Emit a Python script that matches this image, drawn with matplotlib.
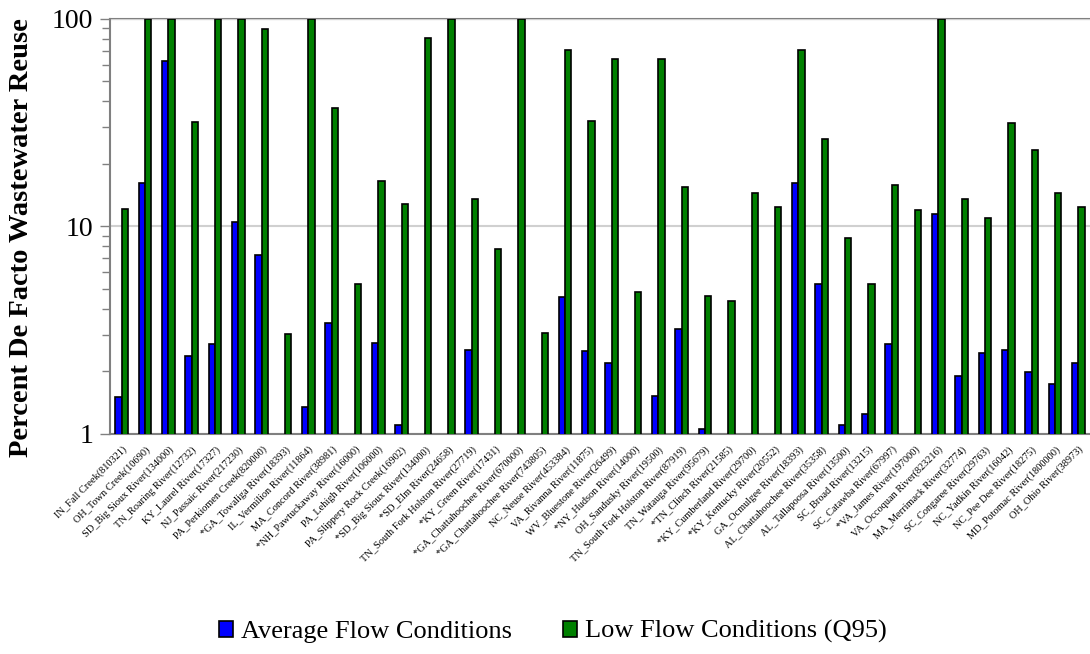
import numpy as np
import matplotlib.pyplot as plt
from matplotlib.ticker import LogLocator, NullFormatter, FixedFormatter, FixedLocator

# River sites (state_river(design flow))
sites = [
    "IN_Fall Creek(810321)", "OH_Town Creek(10690)", "SD_Big Sioux River(134000)",
    "TN_Roaring River(12732)", "KY_Laurel River(17327)", "NJ_Passaic River(217230)",
    "PA_Perkiomen Creek(820000)", "*GA_Towaliga River(18393)", "IL_Vermilion River(11864)",
    "MA_Concord River(38981)", "*NH_Pawtuckaway River(16000)", "PA_Lehigh River(106000)",
    "PA_Slippery Rock Creek(16902)", "*SD_Big Sioux River(134000)", "*SD_Elm River(24658)",
    "TN_South Fork Holston River(27719)", "*KY_Green River(17431)",
    "*GA_Chattahoochee River(670000)", "*GA_Chattahoochee River(743805)",
    "NC_Neuse River(453384)", "VA_Rivanna River(11875)", "WV_Bluestone River(26499)",
    "*NY_Hudson River(14000)", "OH_Sandusky River(19500)",
    "TN_South Fork Holston River(87919)", "TN_Watauga River(95679)",
    "*TN_Clinch River(21585)", "*KY_Cumberland River(29700)", "*KY_Kentucky River(20552)",
    "GA_Ocmulgee River(18393)", "AL_Chattahoochee River(35358)",
    "AL_Tallapoosa River(13500)", "SC_Broad River(13215)", "SC_Catawba River(67997)",
    "*VA_James River(197000)", "VA_Occoquan River(823216)", "MA_Merrimack River(32774)",
    "SC_Congaree River(29763)", "NC_Yadkin River(16042)", "NC_Pee Dee River(18275)",
    "MD_Potomac River(1800000)", "OH_Ohio River(38973)",
]

# percent de facto reuse, nan = no value
avg_flow = [
    1.50, 16.1, 62.5, 2.38, 2.71, 10.5, 7.25, np.nan, 1.35, 3.43,
    np.nan, 2.74, 1.10, np.nan, np.nan, 2.53, np.nan, np.nan, np.nan, 4.56,
    2.50, 2.18, np.nan, 1.51, 3.18, 1.05, np.nan, np.nan, np.nan, 16.1,
    5.25, 1.10, 1.24, 2.70, np.nan, 11.5, 1.90, 2.45, 2.52, 1.99,
    1.73, 2.19,
]
low_flow = [
    12.1, 100, 100, 31.9, 100, 100, 89.2, 3.01, 100, 37.2,
    5.29, 16.6, 12.8, 80.7, 100, 13.5, 7.75, 100, 3.07, 70.9,
    32.2, 63.9, 4.80, 64.1, 15.5, 4.63, 4.35, 14.4, 12.4, 71.1,
    26.4, 8.81, 5.29, 15.8, 12.0, 100, 13.5, 11.0, 31.6, 23.3,
    14.4, 12.4,
]

plt.rcParams['font.family'] = ['Liberation Serif', 'DejaVu Serif']

fig = plt.figure(figsize=(10.9, 6.54), dpi=100)
ax = fig.add_axes([0.101, 0.337, 0.899, 0.634])

x = np.arange(len(sites))
w = 0.27
ax.bar(x, avg_flow, width=-w, align='edge', color='#0000ff', edgecolor='black',
       linewidth=1.2, label='Average Flow Conditions', zorder=3)
ax.bar(x, low_flow, width=w, align='edge', color='#008000', edgecolor='black',
       linewidth=1.2, label='Low Flow Conditions (Q95)', zorder=3)

ax.set_yscale('log')
ax.set_ylim(1, 100)
ax.set_xlim(-0.5, len(sites) - 0.5)

ax.yaxis.set_major_locator(FixedLocator([1, 10, 100]))
ax.yaxis.set_major_formatter(FixedFormatter(['1', '10', '100']))
ax.yaxis.set_minor_locator(LogLocator(base=10, subs=np.arange(2, 10)))
ax.yaxis.set_minor_formatter(NullFormatter())
ax.tick_params(axis='y', which='major', labelsize=20, length=7, width=1,
               color='#808080', direction='out', pad=5)
ax.tick_params(axis='y', which='minor', length=6, width=1, color='#808080',
               direction='out')

ax.set_xticks(x)
ax.set_xticklabels(sites, rotation=45, ha='right', va='top',
                   rotation_mode='anchor', fontsize=7.5)
ax.tick_params(axis='x', length=0, pad=8)

ax.grid(axis='y', which='major', color='#d0d0d0', linewidth=1.5, zorder=0)
for side in ['top', 'right']:
    ax.spines[side].set_visible(False)
for side in ['left', 'bottom']:
    ax.spines[side].set_color('#808080')
    ax.spines[side].set_linewidth(1.5)
ax.axhline(100, color='#808080', linewidth=1.5, zorder=1, clip_on=False)

ax.set_ylabel('Percent De Facto Wastewater Reuse', fontsize=20.5,
              fontweight='bold')
ax.yaxis.set_label_coords(-0.078, 0.473)

fig.legend(loc='center', bbox_to_anchor=(0.507, 0.034), ncol=2, frameon=False,
           fontsize=19, handlelength=0.55, handleheight=0.55, handletextpad=0.28,
           columnspacing=1.95, borderaxespad=0)

fig.savefig('out.png', dpi=100)
